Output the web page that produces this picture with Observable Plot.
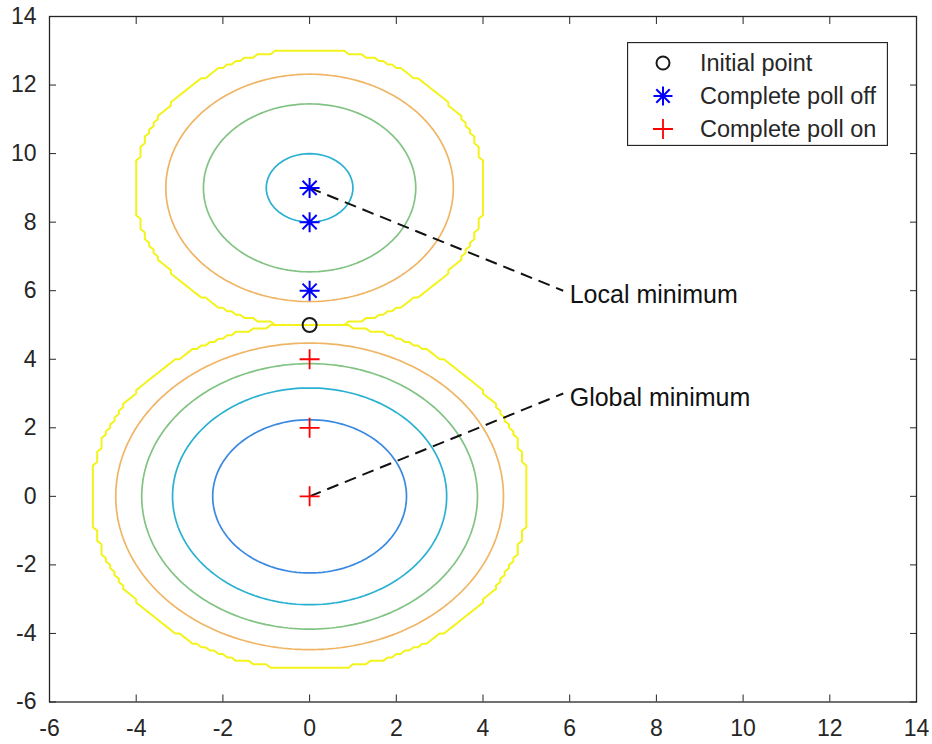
<!DOCTYPE html>
<html>
<head>
<meta charset="utf-8">
<script src="https://cdn.jsdelivr.net/npm/d3@7"></script>
<script src="https://cdn.jsdelivr.net/npm/@observablehq/plot@0.6"></script>
<style>
  body { margin: 0; background: #fff; }
  #wrap { position: relative; width: 932px; height: 744px; font-family: "Liberation Sans", Arial, sans-serif; }
  #legend { position: absolute; left: 627px; top: 42px; }
</style>
</head>
<body>
<div id="wrap"></div>
<script>
// ---- data ----
const xTicks = [-6, -4, -2, 0, 2, 4, 6, 8, 10, 12, 14];
const yTicks = [-6, -4, -2, 0, 2, 4, 6, 8, 10, 12, 14];
const contourLevels = [-20, -15, -10, -5, 0];
const contourColors = ["#3a88e0", "#2ab0d0", "#82c384", "#efb565", "#f3f31c"];
const wellCenterX = [0, 0];
const wellCenterY = [0, 9];
const wellRadiusSq = [25, 16];
const gridStep = 0.1;
const initialPoint = [{x: 0, y: 5}];
const pollOff = [{x: 0, y: 9}, {x: 0, y: 8}, {x: 0, y: 6}];
const pollOn = [{x: 0, y: 4}, {x: 0, y: 2}, {x: 0, y: 0}];
const annotations = [
  {label: "Local minimum", x: 0, y: 9, ex: 5.85, ey: 6, tx: 6, ty: 6},
  {label: "Global minimum", x: 0, y: 0, ex: 5.85, ey: 3, tx: 6, ty: 3}
];
const legendItems = ["Initial point", "Complete poll off", "Complete poll on"];

// objective (piecewise wells), sampled on the grid
function objective(x, y) {
  for (let i = 0; i < wellCenterX.length; i++) {
    const d = (x - wellCenterX[i]) ** 2 + (y - wellCenterY[i]) ** 2;
    if (d <= wellRadiusSq[i]) return d - wellRadiusSq[i];
  }
  return 0;
}
const snap = v => Math.round(v / gridStep) * gridStep;

// marker shapes
const plusSymbol = {draw(ctx, size) {
  const r = Math.sqrt(size / Math.PI);
  ctx.moveTo(-r, 0); ctx.lineTo(r, 0); ctx.moveTo(0, -r); ctx.lineTo(0, r);
}};
const asteriskSymbol = {draw(ctx, size) {
  const r = Math.sqrt(size / Math.PI), d = r * Math.SQRT1_2;
  ctx.moveTo(-r, 0); ctx.lineTo(r, 0); ctx.moveTo(0, -r); ctx.lineTo(0, r);
  ctx.moveTo(-d, -d); ctx.lineTo(d, d); ctx.moveTo(-d, d); ctx.lineTo(d, -d);
}};

const axisColor = "#262626";
const tickFs = 23;
const textFs = 25;
const legendFs = 23.5;
const fmt = d => String(d);

const contourMarks = contourLevels.map((lv, i) => Plot.contour({
  x1: -6 - gridStep / 2, x2: 6 + gridStep / 2,
  y1: -6 - gridStep / 2, y2: 14 + gridStep / 2,
  width: Math.round(12 / gridStep) + 1,
  height: Math.round(20 / gridStep) + 1,
  value: (x, y) => -objective(snap(x), snap(y)),
  thresholds: [lv === 0 ? 1e-9 : -lv],
  fill: "none",
  stroke: contourColors[i],
  strokeWidth: lv === 0 ? 2 : 1.7
}));

const chart = Plot.plot({
  width: 932,
  height: 744,
  marginLeft: 49,
  marginRight: 16,
  marginTop: 16,
  marginBottom: 42.5,
  style: {fontFamily: '"Liberation Sans", Arial, sans-serif', color: axisColor, background: "#fff"},
  x: {domain: [-6, 14], label: null},
  y: {domain: [-6, 14], label: null},
  marks: [
    ...contourMarks,
    Plot.link(annotations, {x1: "x", y1: "y", x2: "ex", y2: "ey", stroke: "#111", strokeWidth: 2, strokeDasharray: "12,7"}),
    Plot.text(annotations, {x: "tx", y: "ty", text: "label", textAnchor: "start", dy: 4, fontSize: textFs, fill: "#111"}),
    Plot.dot(initialPoint, {x: "x", y: "y", r: 7, symbol: "circle", stroke: "#1a1a1a", fill: "none", strokeWidth: 2}),
    Plot.dot(pollOff, {x: "x", y: "y", r: 10, symbol: asteriskSymbol, stroke: "#0000ff", fill: "none", strokeWidth: 2}),
    Plot.dot(pollOn, {x: "x", y: "y", r: 10, symbol: plusSymbol, stroke: "#ff0000", fill: "none", strokeWidth: 1.8}),
    Plot.frame({stroke: axisColor, strokeWidth: 1.3}),
    Plot.axisX({anchor: "bottom", ticks: xTicks, tickSize: 0, tickPadding: 18, fontSize: tickFs, tickFormat: fmt, label: null}),
    Plot.axisY({anchor: "left", ticks: yTicks, tickSize: 0, tickPadding: 13, fontSize: tickFs, tickFormat: fmt, label: null}),
    Plot.axisX({anchor: "bottom", ticks: xTicks, tickSize: -7, tickFormat: () => "", label: null, stroke: axisColor}),
    Plot.axisX({anchor: "top", ticks: xTicks, tickSize: -7, tickFormat: () => "", label: null, stroke: axisColor}),
    Plot.axisY({anchor: "left", ticks: yTicks, tickSize: -7, tickFormat: () => "", label: null, stroke: axisColor}),
    Plot.axisY({anchor: "right", ticks: yTicks, tickSize: -7, tickFormat: () => "", label: null, stroke: axisColor})
  ]
});

const wrap = document.getElementById("wrap");
wrap.appendChild(chart);

// legend (box inside the axes, top right)
const lw = 261, lh = 104;
const legend = d3.create("svg").attr("id", "legend").attr("width", lw).attr("height", lh);
legend.append("rect").attr("x", 0.5).attr("y", 0.5).attr("width", lw - 1).attr("height", lh - 1)
  .attr("fill", "#fff").attr("stroke", axisColor).attr("stroke-width", 1.3);
const rowY = [21, 54, 87];
const sx = 36;
legend.append("circle").attr("cx", sx).attr("cy", rowY[0]).attr("r", 6.5)
  .attr("fill", "none").attr("stroke", "#1a1a1a").attr("stroke-width", 2);
legend.append("path").attr("transform", `translate(${sx},${rowY[1]})`)
  .attr("d", d3.symbol(asteriskSymbol, Math.PI * 9.5 * 9.5)())
  .attr("fill", "none").attr("stroke", "#0000ff").attr("stroke-width", 2);
legend.append("path").attr("transform", `translate(${sx},${rowY[2]})`)
  .attr("d", d3.symbol(plusSymbol, Math.PI * 10 * 10)())
  .attr("fill", "none").attr("stroke", "#ff0000").attr("stroke-width", 1.8);
legendItems.forEach((t, i) => {
  legend.append("text").attr("x", 73).attr("y", rowY[i]).attr("dy", "0.35em")
    .attr("font-size", legendFs).attr("fill", axisColor)
    .attr("font-family", '"Liberation Sans", Arial, sans-serif').text(t);
});
wrap.appendChild(legend.node());
</script>
</body>
</html>
